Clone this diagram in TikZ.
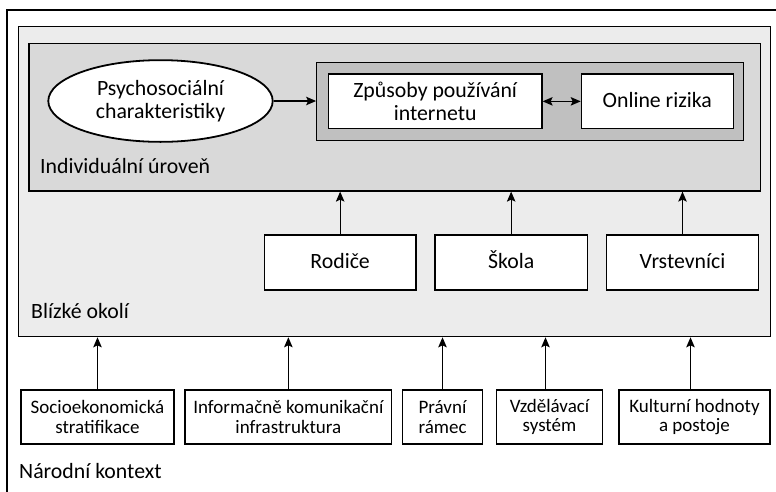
\documentclass[tikz,border=0pt]{standalone}
\usepackage{fontspec}
\setmainfont{Carlito}
\usetikzlibrary{arrows.meta,shapes.geometric,calc}
\definecolor{outerfill}{HTML}{ECECEC}
\definecolor{indivfill}{HTML}{D9D9D9}
\definecolor{darkfill}{HTML}{C0C0C0}
\tikzset{
  frame/.style={draw=black,line width=1.2pt,inner sep=0pt},
  whitebox/.style={draw=black,line width=1.2pt,fill=white,align=center,inner sep=2pt,font=\fontsize{21.8}{23.5}\selectfont},
  oneline/.style={text height=15pt,text depth=3pt},
  smallbox/.style={draw=black,line width=1.2pt,fill=white,align=center,inner sep=2pt,font=\fontsize{19}{19.6}\selectfont,minimum height=54pt},
  lbl/.style={anchor=base west,inner sep=0pt,font=\fontsize{21.8}{24}\selectfont},
  arr/.style={line width=1.2pt,-{Stealth[length=10pt,width=8.5pt,inset=2pt]}},
  darr/.style={line width=1.2pt,{Stealth[length=10pt,width=8.5pt,inset=2pt]}-{Stealth[length=10pt,width=8.5pt,inset=2pt]}}
}
\begin{document}
\begin{tikzpicture}[x=1pt,y=-1pt]
\useasboundingbox (0,0) rectangle (776,491);
\fill[white] (0,0) rectangle (776,491);
\draw[line width=1.2pt] (7,495) -- (7,10) -- (780,10);
\node[frame,fill=outerfill,minimum width=752pt,minimum height=310pt] (blizke) at (394.7,181.7) {};
\node[frame,fill=indivfill,minimum width=731.7pt,minimum height=147.7pt] (indiv) at (394.85,117.15) {};
\node[frame,fill=darkfill,minimum width=426.6pt,minimum height=78.4pt] (dark) at (530,101.5) {};
\node[whitebox,minimum width=213.7pt,minimum height=54.7pt] (zpusoby) at (435.15,101.35) {Způsoby používání\\internetu};
\node[whitebox,oneline,minimum width=152pt,minimum height=54.7pt] (online) at (657.3,101.35) {Online rizika};
\node[whitebox,ellipse,line width=1.8pt,minimum width=224.4pt,minimum height=81.7pt,inner sep=0pt] (psycho) at (160.5,101) {Psychosociální\\charakteristiky};
\node[lbl] (indivlbl) at (40,173.5) {Individuální úroveň};
\node[whitebox,oneline,minimum width=151.7pt,minimum height=55pt] (rodice) at (340.15,262.5) {Rodiče};
\node[whitebox,oneline,minimum width=152.3pt,minimum height=55pt] (skola) at (511.15,262.5) {Škola};
\node[whitebox,oneline,minimum width=151.6pt,minimum height=55pt] (vrst) at (682.5,262.5) {Vrstevníci};
\node[lbl] (blizkelbl) at (31,318.5) {Blízké okolí};
\node[smallbox,minimum width=153pt] (socio) at (97.5,417) {Socioekonomická\\stratifikace};
\node[smallbox,minimum width=206.7pt] (inform) at (288.35,417) {Informačně komunikační\\infrastruktura};
\node[smallbox,minimum width=79.6pt] (pravni) at (442.5,417) {Právní\\rámec};
\node[smallbox,minimum width=105.6pt] (vzdel) at (549.5,417) {Vzdělávací\\systém};
\node[smallbox,minimum width=151pt] (kultur) at (694.5,417) {Kulturní hodnoty\\a postoje};
\node[lbl] (narodni) at (19,478.5) {Národní kontext};
\draw[arr] (psycho.east) -- (psycho.east -| dark.west);
\draw[darr] (zpusoby.east) -- (online.west);
\draw[arr] (rodice.north) -- (rodice.north |- indiv.south);
\draw[arr] (skola.north) -- (skola.north |- indiv.south);
\draw[arr] (vrst.north) -- (vrst.north |- indiv.south);
\draw[arr] (socio.north) -- (socio.north |- blizke.south);
\draw[arr] (inform.north) -- (inform.north |- blizke.south);
\draw[arr] (pravni.north) -- (pravni.north |- blizke.south);
\draw[arr] ([xshift=-4pt]vzdel.north) -- ([xshift=-4pt]vzdel.north |- blizke.south);
\draw[arr] ([xshift=-4pt]kultur.north) -- ([xshift=-4pt]kultur.north |- blizke.south);
\end{tikzpicture}
\end{document}
